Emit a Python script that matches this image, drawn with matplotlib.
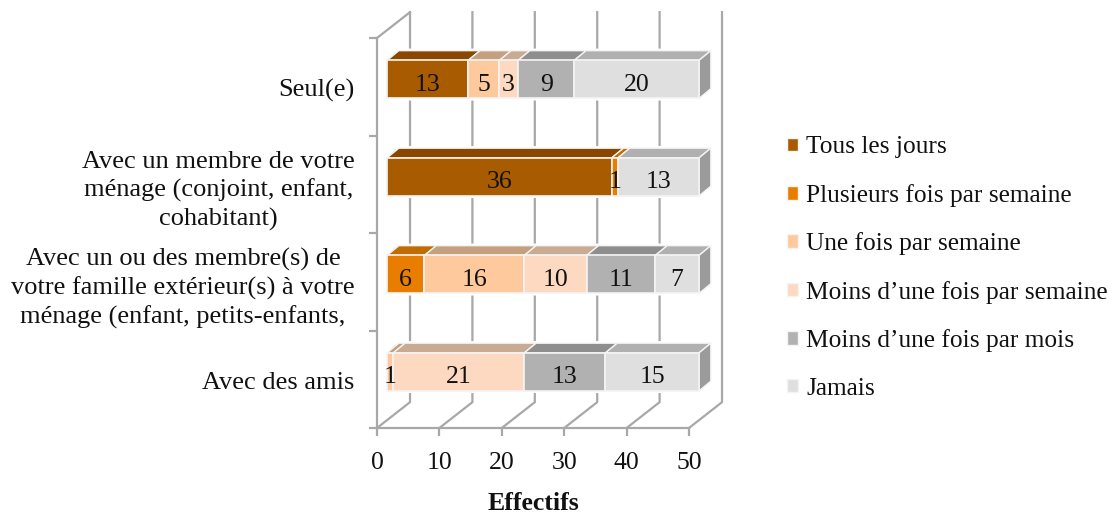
import matplotlib
matplotlib.use("Agg")
import matplotlib.pyplot as plt
from matplotlib.patches import Patch, Polygon

categories = ["Seul(e)",
              "Avec un membre de votre\nménage (conjoint, enfant,\ncohabitant)",
              "Avec un ou des membre(s) de\nvotre famille extérieur(s) à votre\nménage (enfant, petits-enfants,",
              "Avec des amis"]
series = ["Tous les jours", "Plusieurs fois par semaine", "Une fois par semaine",
          "Moins d’une fois par semaine", "Moins d’une fois par mois", "Jamais"]
tous_les_jours = [13, 36, 0, 0]
plusieurs_fois = [0, 1, 6, 0]
une_fois = [5, 0, 16, 1]
moins_semaine = [3, 0, 10, 21]
moins_mois = [9, 0, 11, 13]
jamais = [20, 13, 7, 15]
values = [tous_les_jours, plusieurs_fois, une_fois, moins_semaine, moins_mois, jamais]
xticks = [0, 10, 20, 30, 40, 50]

front = ["#a95b00", "#e87d00", "#fdc99d", "#fdd9c1", "#b1b1b1", "#dfdfdf"]
top = ["#8a4700", "#c06c00", "#c4a07f", "#c9ab93", "#8e8e8e", "#b0b0b0"]
side = "#9b9b9b"
grid = "#a8a8a8"
font = "Liberation Serif"
fs = 18.5

plt.rcParams["font.family"] = font

fig = plt.figure(figsize=(11.17, 5.13), dpi=100)
ax = fig.add_axes([377/1117, 1-428/513, 312/1117, 390/513])
ax.set_xlim(0, 50)
ax.set_ylim(4, 0)

# depth of the fake 3d, in data units
wall_dx, wall_dy = 5.29, 0.265
shift_dx, shift_dy = 1.6, 0.075
bar_dx, bar_dy = 1.9, 0.10
bar_h = 0.39

# walls and grid
for v in xticks:
    ax.plot([v, v+wall_dx, v+wall_dx], [4, 4-wall_dy, -wall_dy], color=grid, lw=1.6,
            clip_on=False, zorder=1, solid_joinstyle="miter")
ax.plot([0, wall_dx], [0, -wall_dy], color=grid, lw=1.6, clip_on=False, zorder=1)

for i in range(len(categories)):
    yc = i + 0.5 - shift_dy
    y0, y1 = yc - bar_h/2, yc + bar_h/2
    total = sum(s[i] for s in values)
    # white halo behind the bar and soft shadow on the left
    ax.add_patch(Polygon([(shift_dx, y1), (shift_dx, y0), (shift_dx+bar_dx, y0-bar_dy),
                          (shift_dx+total+bar_dx, y0-bar_dy), (shift_dx+total+bar_dx, y1-bar_dy),
                          (shift_dx+total, y1)],
                         fc="white", ec="white", lw=3, clip_on=False, zorder=2))
    ax.add_patch(Polygon([(shift_dx, y1), (shift_dx, y0), (shift_dx+bar_dx*0.7, y0-bar_dy*0.9),
                          (shift_dx+bar_dx*0.7, y1-bar_dy*0.9)],
                         fc="#e4e4e4", ec="none", clip_on=False, zorder=2.5))
    left = 0
    for k, s in enumerate(values):
        v = s[i]
        if v == 0:
            continue
        x0 = shift_dx + left
        x1 = x0 + v
        ax.add_patch(Polygon([(x0, y0), (x0+bar_dx, y0-bar_dy), (x1+bar_dx, y0-bar_dy), (x1, y0)],
                             fc=top[k], ec="#f4f4f4", lw=1, clip_on=False, zorder=3))
        ax.barh(yc, v, height=bar_h, left=x0, color=front[k], edgecolor="#f4f4f4", lw=1.2,
                clip_on=False, zorder=4)
        ax.text((x0+x1)/2, yc+0.055, str(v), ha="center", va="center", fontsize=fs, color="#111111",
                zorder=6, clip_on=False)
        left += v
    x1 = shift_dx + total
    ax.add_patch(Polygon([(x1, y0), (x1+bar_dx, y0-bar_dy), (x1+bar_dx, y1-bar_dy), (x1, y1)],
                         fc=side, ec="#f4f4f4", lw=1, clip_on=False, zorder=3))

for sp in ["top", "right"]:
    ax.spines[sp].set_visible(False)
for sp in ["left", "bottom"]:
    ax.spines[sp].set_color(grid)
    ax.spines[sp].set_linewidth(1.6)
    ax.spines[sp].set_zorder(1)

ax.set_xticks(xticks)
ax.set_yticks(range(5))
ax.set_yticklabels([])
ax.set_yticks([i+0.51 for i in range(len(categories))], categories, minor=True,
              ma="center", linespacing=1.33)
ax.tick_params(axis="y", which="minor", length=0, pad=16, labelsize=19, labelcolor="#111111")
ax.tick_params(axis="y", which="major", length=6, width=1.6, color=grid)
ax.tick_params(axis="x", length=6, width=1.6, color=grid, pad=11, labelsize=fs, labelcolor="#111111")
ax.set_xlabel("Effectifs", fontweight="bold", fontsize=fs, labelpad=13, color="#111111")

handles = [Patch(fc=c, ec="#f4f4f4", lw=1) for c in front]
fig.legend(handles, series, loc="center left", bbox_to_anchor=(787/1117, 1-268/513), frameon=False,
           fontsize=18.3, labelspacing=1.0, handlelength=0.45, handleheight=0.45, handletextpad=0.3,
           labelcolor="#111111", borderpad=0, borderaxespad=0)

fig.savefig("out.png", dpi=100)
